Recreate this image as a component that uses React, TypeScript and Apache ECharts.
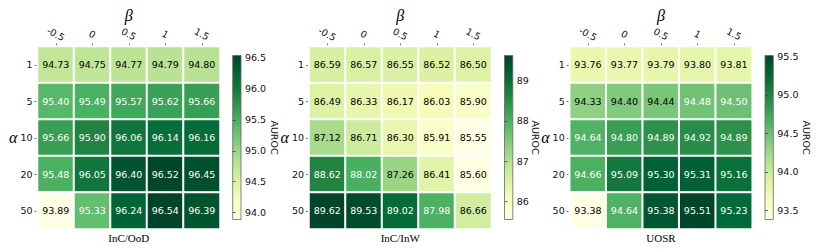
import React, { useEffect, useRef } from "react";
import * as echarts from "echarts";

const YLGN = ["#ffffe5", "#f7fcb9", "#d9f0a3", "#addd8e", "#78c679", "#41ab5d", "#238443", "#006837", "#004529"];

const betaLabels = ["-0.5", "0", "0.5", "1", "1.5"];
const alphaLabels = ["1", "5", "10", "20", "50"];

const oodValues = [
  [94.73, 94.75, 94.77, 94.79, 94.8],
  [95.4, 95.49, 95.57, 95.62, 95.66],
  [95.66, 95.9, 96.06, 96.14, 96.16],
  [95.48, 96.05, 96.4, 96.52, 96.45],
  [93.89, 95.33, 96.24, 96.54, 96.39],
];
const inwValues = [
  [86.59, 86.57, 86.55, 86.52, 86.5],
  [86.49, 86.33, 86.17, 86.03, 85.9],
  [87.12, 86.71, 86.3, 85.91, 85.55],
  [88.62, 88.02, 87.26, 86.41, 85.6],
  [89.62, 89.53, 89.02, 87.98, 86.66],
];
const uosrValues = [
  [93.76, 93.77, 93.79, 93.8, 93.81],
  [94.33, 94.4, 94.44, 94.48, 94.5],
  [94.64, 94.8, 94.89, 94.92, 94.89],
  [94.66, 95.09, 95.3, 95.31, 95.16],
  [93.38, 94.64, 95.38, 95.51, 95.23],
];

const oodTicks = [94.0, 94.5, 95.0, 95.5, 96.0, 96.5];
const inwTicks = [86, 87, 88, 89];
const uosrTicks = [93.5, 94.0, 94.5, 95.0, 95.5];

const titles = ["InC/OoD", "InC/InW", "UOSR"];

const panels = [
  { values: oodValues, ticks: oodTicks, decimals: 1, title: titles[0], gridLeft: 37.5, cbLeft: 232.7, aurocGap: 33.5 },
  { values: inwValues, ticks: inwTicks, decimals: 0, title: titles[1], gridLeft: 309, cbLeft: 504.5, aurocGap: 23 },
  { values: uosrValues, ticks: uosrTicks, decimals: 1, title: titles[2], gridLeft: 569.7, cbLeft: 765, aurocGap: 33 },
];

const SANS = "DejaVu Sans";
const SERIF = "Liberation Serif";
const GRID_TOP = 46.5;
const GRID_SIZE = 182.5;
const CB_TOP = 55.5;
const CB_H = 164;
const CB_W = 8.3;

export default function App() {
  const ref = useRef<HTMLDivElement>(null);
  useEffect(() => {
    if (!ref.current) return;
    const chart = echarts.init(ref.current, null, { renderer: "svg" });
    const grid: any[] = [];
    const xAxis: any[] = [];
    const yAxis: any[] = [];
    const series: any[] = [];
    const visualMap: any[] = [];
    const graphic: any[] = [];

    panels.forEach((p, k) => {
      const flat = p.values.flat();
      const mn = Math.min(...flat);
      const mx = Math.max(...flat);
      grid.push({ left: p.gridLeft, top: GRID_TOP, width: GRID_SIZE, height: GRID_SIZE });
      xAxis.push({
        type: "category",
        gridIndex: k,
        position: "top",
        data: betaLabels,
        name: "β",
        nameLocation: "middle",
        nameGap: 31,
        nameMoveOverlap: false,
        nameTextStyle: { fontFamily: SERIF, fontStyle: "italic", fontSize: 16, color: "#000", align: "center", verticalAlign: "middle" },
        axisLine: { show: false },
        axisTick: { show: true, alignWithLabel: true, length: 3, lineStyle: { color: "#444", width: 0.8 } },
        axisLabel: { rotate: 28, align: "center", verticalAlign: "middle", margin: 12.5, fontFamily: SANS, fontSize: 9.5, color: "#111" },
        splitLine: { show: false },
      });
      yAxis.push({
        type: "category",
        gridIndex: k,
        inverse: true,
        data: alphaLabels,
        name: "α",
        nameLocation: "middle",
        nameRotate: 0,
        nameGap: 20,
        nameMoveOverlap: false,
        nameTextStyle: { fontFamily: SERIF, fontStyle: "italic", fontSize: 16, color: "#000", align: "right", verticalAlign: "middle" },
        axisLine: { show: false },
        axisTick: { show: true, alignWithLabel: true, length: 3, lineStyle: { color: "#444", width: 0.8 } },
        axisLabel: { margin: 5, fontFamily: SANS, fontSize: 9.5, color: "#111" },
        splitLine: { show: false },
      });
      const data: any[] = [];
      p.values.forEach((row, i) => {
        row.forEach((v, j) => {
          const norm = (v - mn) / (mx - mn);
          data.push({ value: [j, i, v], label: { color: norm > 0.5 ? "#ffffff" : "#000000" } });
        });
      });
      series.push({
        type: "heatmap",
        xAxisIndex: k,
        yAxisIndex: k,
        data,
        label: {
          show: true,
          fontFamily: SANS,
          fontSize: 9.5,
          formatter: (pp: any) => pp.value[2].toFixed(2),
        },
        itemStyle: { borderColor: "#ffffff", borderWidth: 2 },
        emphasis: { disabled: true },
      });
      visualMap.push({
        type: "continuous",
        show: false,
        seriesIndex: k,
        dimension: 2,
        min: mn,
        max: mx,
        inRange: { color: YLGN },
      });
      graphic.push({
        type: "text",
        x: p.gridLeft + GRID_SIZE / 2,
        y: 237.5,
        style: { text: p.title, fontFamily: SERIF, fontSize: 11, fill: "#000", textAlign: "center", textVerticalAlign: "middle" },
      });
    });

    panels.forEach((p, k) => {
      const flat = p.values.flat();
      const mn = Math.min(...flat);
      const mx = Math.max(...flat);
      const gi = 3 + k;
      const stops = YLGN.slice().reverse().map((c, i) => ({ offset: i / (YLGN.length - 1), color: c }));
      grid.push({
        left: p.cbLeft,
        top: CB_TOP,
        width: CB_W,
        height: CB_H,
        show: true,
        backgroundColor: { type: "linear", x: 0, y: 0, x2: 0, y2: 1, colorStops: stops },
        borderColor: "#666",
        borderWidth: 0.8,
      });
      xAxis.push({ type: "value", gridIndex: gi, show: false, min: 0, max: 1 });
      yAxis.push({
        type: "value",
        gridIndex: gi,
        position: "right",
        min: mn,
        max: mx,
        name: "AUROC",
        nameLocation: "middle",
        nameRotate: -90,
        nameGap: p.aurocGap,
        nameMoveOverlap: false,
        nameTextStyle: { fontFamily: SANS, fontSize: 9.5, color: "#111", align: "center", verticalAlign: "middle" },
        axisLine: { show: false },
        splitLine: { show: false },
        axisTick: { show: true, length: 3, customValues: p.ticks, lineStyle: { color: "#444", width: 0.8 } },
        axisLabel: {
          margin: 4,
          customValues: p.ticks,
          fontFamily: SANS,
          fontSize: 9.5,
          color: "#111",
          formatter: (v: number) => v.toFixed(p.decimals),
        },
      });
    });

    chart.setOption({
      animation: false,
      backgroundColor: "#ffffff",
      grid,
      xAxis,
      yAxis,
      visualMap,
      series,
      graphic,
    });
    return () => chart.dispose();
  }, []);
  return <div ref={ref} style={{ position: "fixed", left: 0, top: 0, width: 822, height: 252 }} />;
}
